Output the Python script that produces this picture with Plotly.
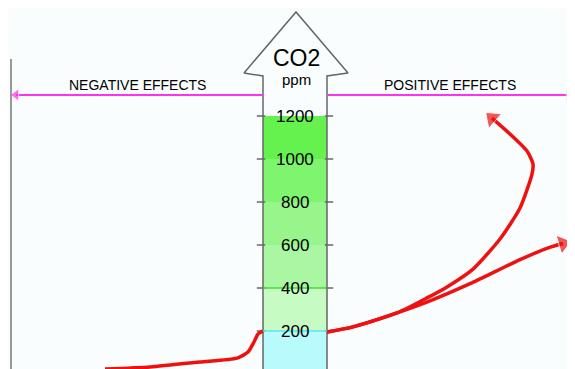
import plotly.graph_objects as go

# ppm scale drawn inside the arrow
ppm_ticks = [200, 400, 600, 800, 1000, 1200]
band_edges = [23, 200, 400, 600, 800, 1000, 1200]
band_colors = ['#b9fafc', '#c6fbc4', '#a9f6a3', '#97f58c', '#7ff46f', '#65f14e']

# hand drawn red curves (x in page units, y in ppm)
left_x = [105, 150, 200, 237, 248, 254, 258, 263]
left_y = [23, 33, 56, 74, 102, 149, 186, 200]
up_x = [327, 353, 397, 427, 447, 473, 500, 520, 532, 533, 527, 510, 492]
up_y = [195, 219, 284, 354, 405, 488, 628, 772, 930, 977, 1037, 1116, 1190]
side_x = [327, 353, 397, 430, 470, 520, 549, 563]
side_y = [195, 219, 284, 340, 420, 532, 588, 607]

# frame of the big arrow
arrow_x = [263, 263, 244, 296, 348, 327, 327]
arrow_y = [23, 1386, 1400, 1684, 1400, 1386, 23]

fig = go.Figure()

# colour bands in the tube
for i, c in enumerate(band_colors):
    fig.add_shape(type='rect', x0=263, x1=327, y0=band_edges[i], y1=band_edges[i + 1],
                  fillcolor=c, line_width=0, layer='below')
fig.add_shape(type='line', x0=263, x1=327, y0=200, y1=200, line=dict(color='#55e8f0', width=1.5))
fig.add_shape(type='line', x0=263, x1=327, y0=400, y1=400, line=dict(color='#44dd33', width=1.5))

fig.add_trace(go.Scatter(x=arrow_x, y=arrow_y, mode='lines', line=dict(color='#666666', width=1.5),
                         hoverinfo='skip'))

# little tick dashes on both sides of the tube
for side in (261, 329):
    fig.add_trace(go.Scatter(x=[side] * len(ppm_ticks), y=ppm_ticks, mode='markers',
                             marker=dict(symbol='line-ew', size=6, line=dict(color='#666666', width=1.5)),
                             hoverinfo='skip'))
for v in ppm_ticks:
    fig.add_annotation(x=295, y=v, text=str(v), showarrow=False,
                       font=dict(size=17, color='black', family='Liberation Sans'))

# left border line
fig.add_shape(type='line', x0=11, x1=11, y0=23, y1=1465, line=dict(color='#777777', width=1.5))

# magenta effect arrows
for xs in ([263, 16], [328, 569]):
    fig.add_trace(go.Scatter(x=xs, y=[1298, 1298], mode='lines+markers', cliponaxis=False,
                             line=dict(color='#ff33ee', width=2),
                             marker=dict(symbol='triangle-up', size=[0, 11], angleref='previous', color='#ff33ee'),
                             hoverinfo='skip'))

# red curves
for xs, ys, head in ((left_x, left_y, False), (up_x, up_y, True), (side_x, side_y, True)):
    sizes = [0] * len(xs)
    if head:
        sizes[-1] = 17
    fig.add_trace(go.Scatter(x=xs, y=ys, mode='lines+markers', cliponaxis=False,
                             line=dict(color='#ee1111', width=3.5, shape='spline', smoothing=0.6),
                             marker=dict(symbol='triangle-up', size=sizes, angleref='previous', color='#ee1111'),
                             hoverinfo='skip'))

fig.add_annotation(x=296, y=1468, text='CO2', showarrow=False,
                   font=dict(size=23, color='black', family='Liberation Sans'))
fig.add_annotation(x=296, y=1368, text='ppm', showarrow=False,
                   font=dict(size=15, color='black', family='Liberation Sans'))
fig.add_annotation(x=137, y=1345, text='NEGATIVE EFFECTS', showarrow=False,
                   font=dict(size=14, color='black', family='Liberation Sans'))
fig.add_annotation(x=450, y=1345, text='POSITIVE EFFECTS', showarrow=False,
                   font=dict(size=14, color='black', family='Liberation Sans'))

# page body keeps an 8px margin, so the plot covers page pixels 8..575 / 8..369
fig.update_layout(width=567, height=361, margin=dict(l=0, r=0, t=0, b=0),
                  paper_bgcolor='#f9fdfd', plot_bgcolor='#f9fdfd', showlegend=False,
                  xaxis=dict(range=[8, 575], visible=False, fixedrange=True),
                  yaxis=dict(range=[23.3, 1702.3], visible=False, fixedrange=True))

fig.write_html('out.html')
